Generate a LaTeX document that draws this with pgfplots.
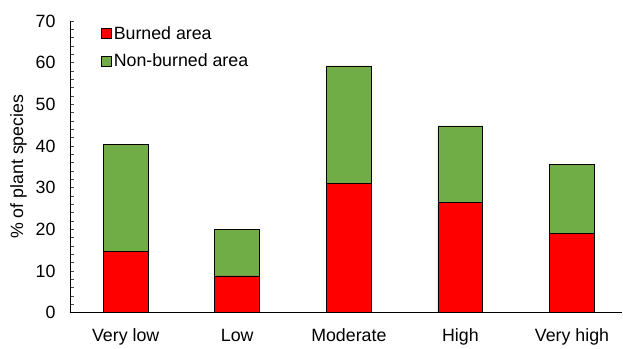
\documentclass[border=0pt]{standalone}
\usepackage{pgfplots}
\pgfplotsset{compat=1.18}
\usepackage{fontspec}
\setmainfont{Liberation Sans}
\definecolor{burnred}{HTML}{FF0000}
\definecolor{nbgreen}{HTML}{70AD47}
\begin{document}
\begin{tikzpicture}
\begin{axis}[
  scale only axis,
  width=553bp, height=292bp,
  ybar stacked, bar width=45bp,
  xmin=-0.5, xmax=4.45, ymin=0, ymax=70,
  xtick=data,
  xticklabels={Very low,Low,Moderate,High,Very high},
  x tick style={draw=none},
  axis x line*=bottom, axis y line*=left,
  x axis line style={line width=1.6bp, black},
  y axis line style={line width=0.6bp, black},
  ytick={0,10,...,70}, minor y tick num=4,
  tick align=inside,
  major tick length=4bp, minor tick length=4bp,
  y tick style={line width=0.5bp, black!70},
  /pgf/number format/assume math mode=true,
  tick label style={font=\fontsize{17.8bp}{20bp}\selectfont},
  yticklabel style={xshift=-11bp},
  xticklabel style={yshift=-13bp},
  ylabel={\% of plant species},
  ylabel style={font=\fontsize{17.8bp}{20bp}\selectfont, yshift=2bp},
  legend style={draw=none, fill=none, at={(0.056,0.988)}, anchor=north west,
    font=\fontsize{17.8bp}{20bp}\selectfont, row sep=9bp, inner sep=0pt,
    /tikz/every even column/.append style={column sep=2bp}},
  legend image code/.code={\draw[#1, line width=0.8bp] (0bp,-5bp) rectangle (10bp,5bp);},
  legend cell align=left,
]
\addplot[fill=burnred, draw=black, line width=0.8bp]
  coordinates {(0,14.6) (1,8.8) (2,30.9) (3,26.5) (4,19.1)};
\addplot[fill=nbgreen, draw=black, line width=0.8bp]
  coordinates {(0,25.8) (1,11.2) (2,28.3) (3,18.3) (4,16.5)};
\legend{Burned area, Non-burned area}
\end{axis}
% margins around the plot area
\path ([yshift=21bp]current axis.north) ([xshift=-70bp]current axis.west)
      ([yshift=-32bp]current axis.south);
\end{tikzpicture}
\end{document}
